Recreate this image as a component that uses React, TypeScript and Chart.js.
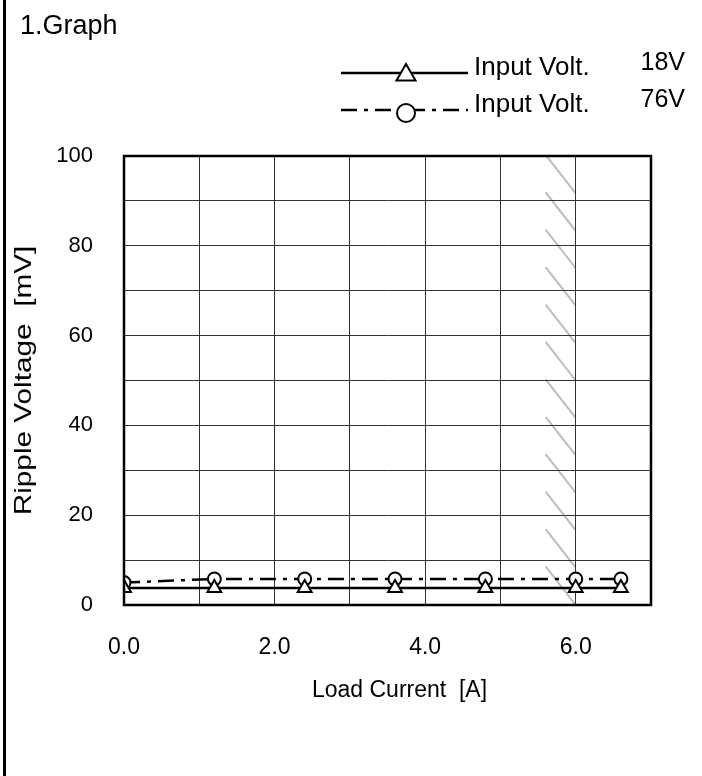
import React, { useEffect, useRef } from "react";
import { Chart, registerables } from "chart.js";

Chart.register(...registerables);

// Load current [A] at each measured point
const loadCurrent = [0.0, 1.2, 2.4, 3.6, 4.8, 6.0, 6.6];
// Output ripple voltage [mV] per input voltage
const ripple18V = [3.8, 3.8, 3.8, 3.8, 3.8, 3.8, 3.8];
const ripple76V = [5.0, 5.8, 5.8, 5.8, 5.8, 5.8, 5.8];

const seriesNames = ["Input Volt.", "Input Volt."];
const seriesVolts = ["18V", "76V"];

const xTickLabels = ["0.0", "2.0", "4.0", "6.0"];
const yTickLabels = ["0", "20", "40", "60", "80", "100"];

const xTitle = "Load Current  [A]";
const yTitle = "Ripple Voltage  [mV]";

// Derating band shown with hatching
const derateFrom = 5.6;
const derateTo = 6.0;
const hatchStrokes = 12;

const FONT = 'Arial, "Liberation Sans", sans-serif';

function drawMarker(ctx: CanvasRenderingContext2D, style: string, x: number, y: number, r: number) {
  ctx.beginPath();
  if (style === "triangle") {
    let rad = 0;
    ctx.moveTo(x + Math.sin(rad) * r, y - Math.cos(rad) * r);
    rad += (2 * Math.PI) / 3;
    ctx.lineTo(x + Math.sin(rad) * r, y - Math.cos(rad) * r);
    rad += (2 * Math.PI) / 3;
    ctx.lineTo(x + Math.sin(rad) * r, y - Math.cos(rad) * r);
    ctx.closePath();
  } else {
    ctx.arc(x, y, r, 0, Math.PI * 2);
  }
  ctx.fillStyle = "#fff";
  ctx.fill();
  ctx.stroke();
}

const sheetPlugin = {
  id: "sheet",
  beforeDraw(chart: any) {
    const { ctx, width, height, chartArea, scales } = chart;
    ctx.save();
    ctx.fillStyle = "#fff";
    ctx.fillRect(0, 0, width, height);
    // sheet edge on the left
    ctx.fillStyle = "#000";
    ctx.fillRect(3, 0, 3, height);

    // hatching of the derating band
    ctx.beginPath();
    ctx.rect(chartArea.left, chartArea.top, chartArea.right - chartArea.left, chartArea.bottom - chartArea.top);
    ctx.clip();
    ctx.strokeStyle = "#bdbdbd";
    ctx.lineWidth = 2;
    const step = 100 / hatchStrokes;
    const xa = scales.x.getPixelForValue(derateFrom);
    const xb = scales.x.getPixelForValue(derateTo);
    for (let k = 0; k < hatchStrokes; k++) {
      const v = k * step;
      ctx.beginPath();
      ctx.moveTo(xa, scales.y.getPixelForValue(v + step * 1.03));
      ctx.lineTo(xb, scales.y.getPixelForValue(v));
      ctx.stroke();
    }
    ctx.restore();
  },
  afterDatasetsDraw(chart: any) {
    const { ctx, chartArea } = chart;
    ctx.save();
    ctx.strokeStyle = "#000";
    ctx.lineWidth = 2.5;
    ctx.strokeRect(chartArea.left, chartArea.top, chartArea.right - chartArea.left, chartArea.bottom - chartArea.top);
    ctx.restore();
  },
  afterDraw(chart: any) {
    const { ctx, chartArea } = chart;
    ctx.save();
    ctx.fillStyle = "#000";
    ctx.textBaseline = "alphabetic";
    ctx.font = `27px ${FONT}`;
    ctx.textAlign = "left";
    ctx.fillText("1.Graph", 20, 34);

    // axis titles
    ctx.font = `23px ${FONT}`;
    ctx.textAlign = "center";
    ctx.fillText(xTitle, (chartArea.left + chartArea.right) / 2 + 12, 697);
    ctx.save();
    ctx.translate(31, (chartArea.top + chartArea.bottom) / 2);
    ctx.rotate(-Math.PI / 2);
    ctx.font = `24px ${FONT}`;
    ctx.scale(1.24, 1);
    ctx.fillText(yTitle, 0, 0);
    ctx.restore();

    // legend
    const rows = [
      { y: 73, ds: chart.data.datasets[0] },
      { y: 110, ds: chart.data.datasets[1] },
    ];
    rows.forEach((row, i) => {
      ctx.strokeStyle = "#000";
      ctx.lineWidth = 2.5;
      ctx.setLineDash(row.ds.borderDash || []);
      ctx.beginPath();
      ctx.moveTo(341, row.y);
      ctx.lineTo(468, row.y);
      ctx.stroke();
      ctx.setLineDash([]);
      ctx.lineWidth = 2;
      const tri = row.ds.pointStyle === "triangle";
      drawMarker(ctx, row.ds.pointStyle, 406, tri ? row.y + 2 : row.y + 3, tri ? 11 : 9);
      ctx.fillStyle = "#000";
      ctx.font = `26px ${FONT}`;
      ctx.textAlign = "left";
      ctx.fillText(seriesNames[i], 474, row.y + 2);
      ctx.font = `25px ${FONT}`;
      ctx.textAlign = "right";
      ctx.fillText(seriesVolts[i], 685, row.y - 3);
    });
    ctx.restore();
  },
};

export default function App() {
  const canvasRef = useRef<HTMLCanvasElement | null>(null);

  useEffect(() => {
    const canvas = canvasRef.current;
    if (!canvas) return;
    const chart = new Chart(canvas, {
      type: "line",
      data: {
        datasets: [
          {
            label: seriesVolts[0],
            data: loadCurrent.map((x, i) => ({ x, y: ripple18V[i] })),
            borderColor: "#000",
            borderWidth: 2.5,
            pointStyle: "triangle",
            pointRadius: 8,
            pointBorderWidth: 2,
            pointBorderColor: "#000",
            pointBackgroundColor: "#fff",
          },
          {
            label: seriesVolts[1],
            data: loadCurrent.map((x, i) => ({ x, y: ripple76V[i] })),
            borderColor: "#000",
            borderWidth: 2.5,
            borderDash: [16, 7, 4, 7],
            pointStyle: "circle",
            pointRadius: 6.5,
            pointBorderWidth: 2,
            pointBorderColor: "#000",
            pointBackgroundColor: "#fff",
          },
        ],
      },
      options: {
        responsive: false,
        animation: false,
        devicePixelRatio: 1,
        layout: { padding: { left: 4, right: 51, top: 156, bottom: 70 } },
        plugins: { legend: { display: false }, tooltip: { enabled: false } },
        scales: {
          x: {
            type: "linear",
            min: 0,
            max: 7,
            afterFit: (s: any) => {
              s.height = 101;
            },
            grid: { color: "#333", lineWidth: 1, drawTicks: false },
            border: { display: false },
            ticks: {
              stepSize: 1,
              autoSkip: false,
              maxRotation: 0,
              padding: 29,
              color: "#000",
              font: { family: FONT, size: 23 },
              callback: (v: any) => xTickLabels.find((t) => Number(t) === Number(v)) ?? "",
            },
          },
          y: {
            type: "linear",
            min: 0,
            max: 100,
            afterFit: (s: any) => {
              s.width = 120;
            },
            grid: { color: "#333", lineWidth: 1, drawTicks: false },
            border: { display: false },
            ticks: {
              stepSize: 10,
              autoSkip: false,
              padding: 31,
              color: "#000",
              font: { family: FONT, size: 22 },
              callback: (v: any) => yTickLabels.find((t) => Number(t) === Number(v)) ?? "",
            },
          },
        },
      },
      plugins: [sheetPlugin],
    });
    return () => chart.destroy();
  }, []);

  return (
    <div style={{ position: "absolute", left: 0, top: 0, width: 702, height: 776 }}>
      <canvas ref={canvasRef} width={702} height={776} style={{ display: "block" }} />
    </div>
  );
}
